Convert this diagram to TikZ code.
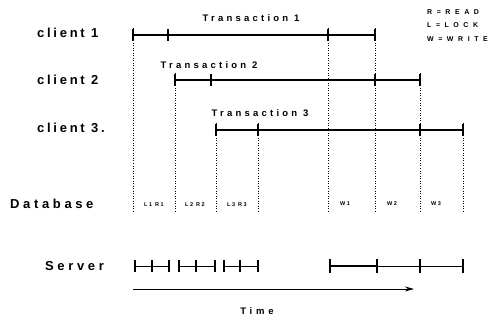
\documentclass[tikz,border=0pt]{standalone}
\usepackage{fontspec}
\setmainfont{Liberation Sans}
\newfontfamily\spc[LetterSpace=21]{Liberation Sans}
\newfontfamily\spd[LetterSpace=28]{Liberation Sans}
\newfontfamily\spt[LetterSpace=34]{Liberation Sans}
\newfontfamily\spl[LetterSpace=40]{Liberation Sans}
\newfontfamily\spg[LetterSpace=65]{Liberation Sans}
\usetikzlibrary{arrows.meta}
\begin{document}
\begin{tikzpicture}[x=1pt,y=-1pt,
  bar/.style={line width=1.5pt},
  thinbar/.style={line width=0.9pt},
  tick/.style={line width=1.3pt},
  vdot/.style={line width=0.8pt, dash pattern=on 1pt off 1.5pt},
  rowlbl/.style={anchor=west, inner sep=0pt, font=\spc\bfseries\fontsize{13}{13}\selectfont},
  rowlblw/.style={anchor=west, inner sep=0pt, font=\spd\bfseries\fontsize{13}{13}\selectfont},
  trlbl/.style={inner sep=0pt, font=\spt\bfseries\fontsize{9.5}{10}\selectfont},
  dblbl/.style={inner sep=0pt, font=\spd\bfseries\fontsize{5.5}{6}\selectfont},
  leg/.style={anchor=west, inner sep=0pt, font=\spg\bfseries\fontsize{7}{8}\selectfont}]
\useasboundingbox (0,0) rectangle (502,320);

% row labels
\node[rowlbl] (l1) at (37,33) {client 1};
\node[rowlbl] (l2) at (37,80) {client 2};
\node[rowlbl] (l3) at (37,128) {client 3.};
\node[rowlblw] (ldb) at (10,204) {Database};
\node[rowlblw] (lsv) at (45,266) {Server};

% legend
\node[leg] (g1) at (427,12) {R=READ};
\node[leg] (g2) at (427,25) {L=LOCK};
\node[leg] (g3) at (427,39) {W=WRITE};

% transaction labels
\node[trlbl] (t1) at (251,18) {Transaction 1};
\node[trlbl] (t2) at (209,65) {Transaction 2};
\node[trlbl] (t3) at (260,113) {Transaction 3};

% coordinates of the time marks
\coordinate (a1) at (133,35); \coordinate (b1) at (168,35);
\coordinate (c1) at (328,35); \coordinate (d1) at (375,35);
\coordinate (a2) at (175,80); \coordinate (b2) at (211,80);
\coordinate (c2) at (375,80); \coordinate (d2) at (420,80);
\coordinate (a3) at (216,130); \coordinate (b3) at (258,130);
\coordinate (c3) at (420,130); \coordinate (d3) at (463,130);

% transaction lines
\draw[bar] (a1) -- (d1);
\draw[bar] (a2) -- (d2);
\draw[bar] (a3) -- (d3);
\foreach \p in {a1,b1,c1,d1,a2,b2,c2,d2,a3,b3,c3,d3}
  \draw[tick] ([yshift=-6pt]\p) -- ([yshift=6pt]\p);

% dotted verticals down to database
\foreach \p/\x in {a1/133,c1/328,d1/375,a2/175,d2/420,a3/216,b3/258,d3/463}{
  \coordinate (e\p) at (\x,212);
  \draw[vdot] ([yshift=7pt]\p) -- (e\p);
}

% database labels
\node[dblbl] (r1) at (154,205) {L1 R1};
\node[dblbl] (r2) at (195,205) {L2 R2};
\node[dblbl] (r3) at (237,205) {L3 R3};
\node[dblbl] (w1) at (345,204) {W1};
\node[dblbl] (w2) at (392,204) {W2};
\node[dblbl] (w3) at (436,204) {W3};

% server
\foreach \s/\m/\e in {135/152/169,179/196/215,224/240/258}{
  \coordinate (s\s) at (\s,266); \coordinate (m\s) at (\m,266); \coordinate (f\s) at (\e,266);
  \draw[thinbar] (s\s) -- (f\s);
  \foreach \p in {s\s,m\s,f\s} \draw[tick] ([yshift=-6pt]\p) -- ([yshift=6pt]\p);
}
\coordinate (sa) at (330,266); \coordinate (sb) at (377,266);
\coordinate (sc) at (420,266); \coordinate (sd) at (463,266);
\draw[bar] (sa) -- (sb);
\draw[thinbar] (sb) -- (sd);
\foreach \p in {sa,sb,sc,sd} \draw[tick] ([yshift=-7pt]\p) -- ([yshift=7pt]\p);

% time arrow
\coordinate (ts) at (133,289); \coordinate (te) at (414,289);
\draw[line width=1pt, -{Stealth[length=9pt,width=5pt]}] (ts) -- (te);
\node[trlbl, font=\spl\bfseries\fontsize{9.5}{10}\selectfont] (tm) at (257,311) {Time};
\end{tikzpicture}
\end{document}
